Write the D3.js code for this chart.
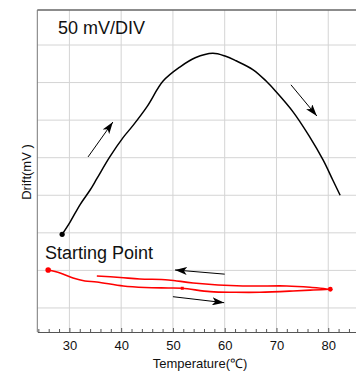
<!DOCTYPE html>
<html lang="en">
<head>
    <meta charset="UTF-8">
    <title>Drift vs Temperature</title>
    <style>
        body { margin: 0; background: #fff; }
        text { font-family: "Liberation Sans", Arial, sans-serif; fill: #111; }
        .grid line { stroke: #d4d4d4; stroke-width: 1; }
        .x-axis path, .x-axis line { stroke: #555; }
        .x-axis text { font-size: 13px; }
    </style>
</head>
<body>
    <div id="chart"></div>

    <script src="https://d3js.org/d3.v7.min.js"></script>
    <script>
        const width = 356;
        const height = 371;

        // temperature (C) and drift (mV)
        const heatTemp  = [28.6, 30.1, 32.1, 34.0, 35.3, 37.8, 40.4, 42.3, 45.0, 48.1, 51.4, 54.3, 57.7, 60.2, 62.2, 65.5, 68.0, 69.9, 73.2, 76.3, 79.0, 80.9, 82.3];
        const heatDrift = [98, 114, 138, 157, 172, 201, 227, 243, 268, 302, 321, 333, 339, 335, 329, 317, 302, 288, 261, 229, 197, 170, 150];

        const redTemp  = [25.9, 28.2, 30.7, 33.0, 35.3, 40.4, 44.6, 49.1, 51.8, 57.2, 62.0, 66.8, 73.2, 77.1, 80.4,
                          76.5, 72.0, 63.5, 53.9, 49.1, 43.6, 39.8, 35.3];
        const redDrift = [50.6, 46.6, 39.9, 35.9, 34.6, 29.3, 27.3, 26.6, 26.2, 21.7, 20.9, 20.9, 22.6, 24.0, 24.9,
                          27.5, 29.3, 29.3, 33.3, 37.3, 38.6, 40.6, 42.6];

        // arrows: [tailT, tailV, tipT, tipV]
        const arrows = [
            [33.6, 201, 38.4, 247.5],
            [72.8, 297, 77.8, 255.5],
            [60.0, 45, 50.4, 50.6],
            [50.0, 15, 59.9, 7]
        ];

        const xTicks = [30, 40, 50, 60, 70, 80];
        const yGrid = [0, 50, 100, 150, 200, 250, 300, 350];

        const svg = d3.select("#chart")
            .append("svg")
            .attr("width", width)
            .attr("height", height);

        const x = d3.scaleLinear().domain([23.8, 86.0]).range([37.3, 359.3]);
        const y = d3.scaleLinear().domain([-32, 396.6]).range([332, 10]);

        // grid
        const grid = svg.append("g").attr("class", "grid");
        grid.selectAll(".v").data(xTicks).enter().append("line")
            .attr("x1", d => x(d)).attr("x2", d => x(d))
            .attr("y1", y.range()[1]).attr("y2", y.range()[0]);
        grid.selectAll(".h").data(yGrid).enter().append("line")
            .attr("x1", x.range()[0]).attr("x2", width)
            .attr("y1", d => y(d)).attr("y2", d => y(d));

        // top border and left axis
        svg.append("line")
            .attr("x1", x.range()[0]).attr("x2", width)
            .attr("y1", 10).attr("y2", 10)
            .attr("stroke", "#666").attr("stroke-width", 1.5);
        svg.append("line")
            .attr("x1", x.range()[0]).attr("x2", x.range()[0])
            .attr("y1", 10).attr("y2", 332)
            .attr("stroke", "#777").attr("stroke-width", 1);

        // x axis, ticks point inward
        const minor = d3.range(24, 87, 2).filter(d => d % 10 !== 0);
        svg.append("g")
            .attr("class", "x-axis")
            .attr("transform", "translate(0,332)")
            .call(d3.axisBottom(x).tickValues(minor).tickSize(-3).tickFormat(""))
            .call(g => g.select(".domain").remove());
        svg.append("g")
            .attr("class", "x-axis")
            .attr("transform", "translate(0,332)")
            .call(d3.axisBottom(x).tickValues(xTicks).tickSize(-4).tickPadding(9).tickSizeOuter(0))
            .call(g => g.selectAll("text").attr("fill", "#111"));

        // curves
        const line = d3.line()
            .x(d => x(d[0])).y(d => y(d[1]))
            .curve(d3.curveCatmullRom.alpha(0.5));
        svg.append("path")
            .datum(d3.zip(heatTemp, heatDrift))
            .attr("d", line)
            .attr("fill", "none")
            .attr("stroke", "#000")
            .attr("stroke-width", 1.5);
        svg.append("path")
            .datum(d3.zip(redTemp, redDrift))
            .attr("d", line)
            .attr("fill", "none")
            .attr("stroke", "#ff0000")
            .attr("stroke-width", 1.6);

        svg.append("circle").attr("cx", x(heatTemp[0])).attr("cy", y(heatDrift[0])).attr("r", 2.6).attr("fill", "#000");
        svg.append("circle").attr("cx", x(redTemp[0])).attr("cy", y(redDrift[0])).attr("r", 2.8).attr("fill", "#ff0000");
        svg.append("circle").attr("cx", x(redTemp[14])).attr("cy", y(redDrift[14])).attr("r", 2.4).attr("fill", "#ff0000");
        svg.append("rect").attr("x", x(redTemp[8]) - 1.5).attr("y", y(redDrift[8]) - 1.5)
            .attr("width", 3).attr("height", 3).attr("fill", "#ff0000");

        // arrows
        svg.append("defs").append("marker")
            .attr("id", "head")
            .attr("viewBox", "0 0 12 8")
            .attr("refX", 12).attr("refY", 4)
            .attr("markerWidth", 12).attr("markerHeight", 8)
            .attr("markerUnits", "userSpaceOnUse")
            .attr("orient", "auto")
            .append("path")
            .attr("d", "M0,0 L12,4 L0,8 L3,4 Z")
            .attr("fill", "#000");

        svg.selectAll(".arrow").data(arrows).enter().append("line")
            .attr("class", "arrow")
            .attr("x1", d => x(d[0])).attr("y1", d => y(d[1]))
            .attr("x2", d => x(d[2])).attr("y2", d => y(d[3]))
            .attr("stroke", "#000").attr("stroke-width", 1)
            .attr("marker-end", "url(#head)");

        // labels
        svg.append("text").attr("x", 58).attr("y", 34).attr("font-size", 18).text("50 mV/DIV");
        svg.append("text").attr("x", 45).attr("y", 259).attr("font-size", 18).text("Starting Point");
        svg.append("text")
            .attr("x", 200).attr("y", 368)
            .attr("text-anchor", "middle")
            .attr("font-size", 13)
            .text("Temperature(℃)");
        svg.append("text")
            .attr("transform", "translate(31,172) rotate(-90)")
            .attr("text-anchor", "middle")
            .attr("font-size", 13)
            .text("Drift(mV )");
    </script>
</body>
</html>
